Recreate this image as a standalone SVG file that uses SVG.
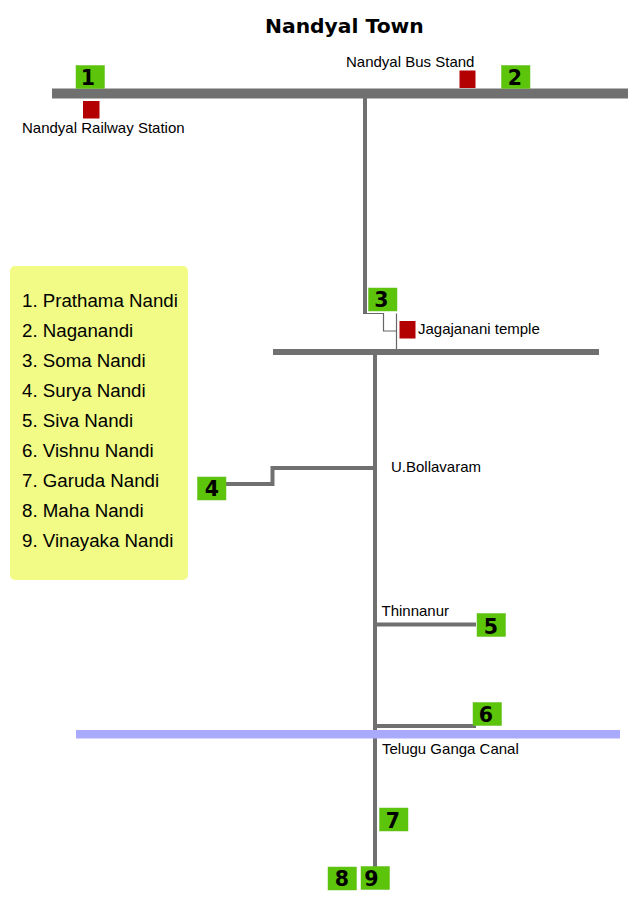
<svg xmlns="http://www.w3.org/2000/svg" width="640" height="919" viewBox="0 0 640 919">
  <style>
    text { font-family: "Liberation Sans", Arial, sans-serif; fill: #000; }
    .title { font-family: "DejaVu Sans", sans-serif; font-weight: 700; font-size: 20.3px; }
    .label { font-size: 15px; }
    .legend { font-size: 18.7px; }
    .num { font-family: "DejaVu Sans", sans-serif; font-weight: 700; font-size: 20.5px; text-anchor: middle; }
    .box { fill: #5cc40a; stroke: #66c020; stroke-width: 0.5; }
    .site { fill: #b30000; }
    .road { fill: #707070; }
    .link { fill: none; stroke: #707070; stroke-width: 4; }
    .thin { fill: none; stroke: #666; stroke-width: 1.2; }
  </style>
  <rect width="640" height="919" fill="#fff"/>
  <text class="title" x="265" y="32.500">Nandyal Town</text>

  <g id="connectors">
    <rect class="road" x="52" y="88.500" width="576" height="10"/>
    <rect class="road" x="273" y="349" width="326" height="6"/>
    <path class="link" d="M365 98V313.500"/>
    <path class="thin" d="M363 313.500H383.500V331H396.500M396.500 313.500V349"/>
    <path class="link" d="M375 355V867"/>
    <path class="link" d="M226 484H272.500V468H373"/>
    <path class="link" d="M377 624.500H476"/>
    <path class="link" d="M377 726H476"/>
    <rect id="canal" x="76" y="730" width="544" height="8.500" fill="#aaaafc"/>
  </g>

  <g id="site-railway"><rect class="site" x="83" y="101" width="16.500" height="17.500"/><text class="label" x="22" y="132.500">Nandyal Railway Station</text></g>
  <g id="site-bus"><rect class="site" x="459.500" y="70.500" width="16" height="17.500"/><text class="label" x="346" y="67">Nandyal Bus Stand</text></g>
  <g id="site-temple"><rect class="site" x="399.500" y="321" width="16" height="17.500"/><text class="label" x="418" y="334">Jagajanani temple</text></g>

  <g id="place-bollavaram"><text class="label" x="391" y="472">U.Bollavaram</text></g>
  <g id="place-thinnanur"><text class="label" x="381.500" y="615.500">Thinnanur</text></g>
  <g id="place-canal"><text class="label" x="382" y="753.500">Telugu Ganga Canal</text></g>

  <g id="node-1"><rect class="box" x="76" y="65.500" width="28.500" height="23"/><text class="num" x="88" y="85">1</text></g>
  <g id="node-2"><rect class="box" x="501.500" y="65.500" width="28.500" height="23"/><text class="num" x="515" y="85">2</text></g>
  <g id="node-3"><rect class="box" x="368.500" y="288" width="28.500" height="23"/><text class="num" x="381.500" y="306.500">3</text></g>
  <g id="node-4"><rect class="box" x="197.500" y="477" width="28.500" height="23"/><text class="num" x="212" y="495.500">4</text></g>
  <g id="node-5"><rect class="box" x="477" y="613.500" width="28.500" height="23"/><text class="num" x="491" y="634">5</text></g>
  <g id="node-6"><rect class="box" x="473" y="702.500" width="28.500" height="23"/><text class="num" x="486" y="722">6</text></g>
  <g id="node-7"><rect class="box" x="379.500" y="808" width="28.500" height="23"/><text class="num" x="393" y="827.500">7</text></g>
  <g id="node-8"><rect class="box" x="328" y="867" width="28.500" height="23"/><text class="num" x="342" y="886">8</text></g>
  <g id="node-9"><rect class="box" x="361" y="866.500" width="28.500" height="23"/><text class="num" x="371.500" y="885.500">9</text></g>

  <g id="legend">
    <rect x="10" y="266" width="178" height="314" rx="5" fill="#f1fb85"/>
    <text class="legend" x="22" y="306.500">1. Prathama Nandi</text>
    <text class="legend" x="22" y="336.500">2. Naganandi</text>
    <text class="legend" x="22" y="366.500">3. Soma Nandi</text>
    <text class="legend" x="22" y="396.500">4. Surya Nandi</text>
    <text class="legend" x="22" y="426.500">5. Siva Nandi</text>
    <text class="legend" x="22" y="456.500">6. Vishnu Nandi</text>
    <text class="legend" x="22" y="486.500">7. Garuda Nandi</text>
    <text class="legend" x="22" y="516.500">8. Maha Nandi</text>
    <text class="legend" x="22" y="546.500">9. Vinayaka Nandi</text>
  </g>
</svg>
